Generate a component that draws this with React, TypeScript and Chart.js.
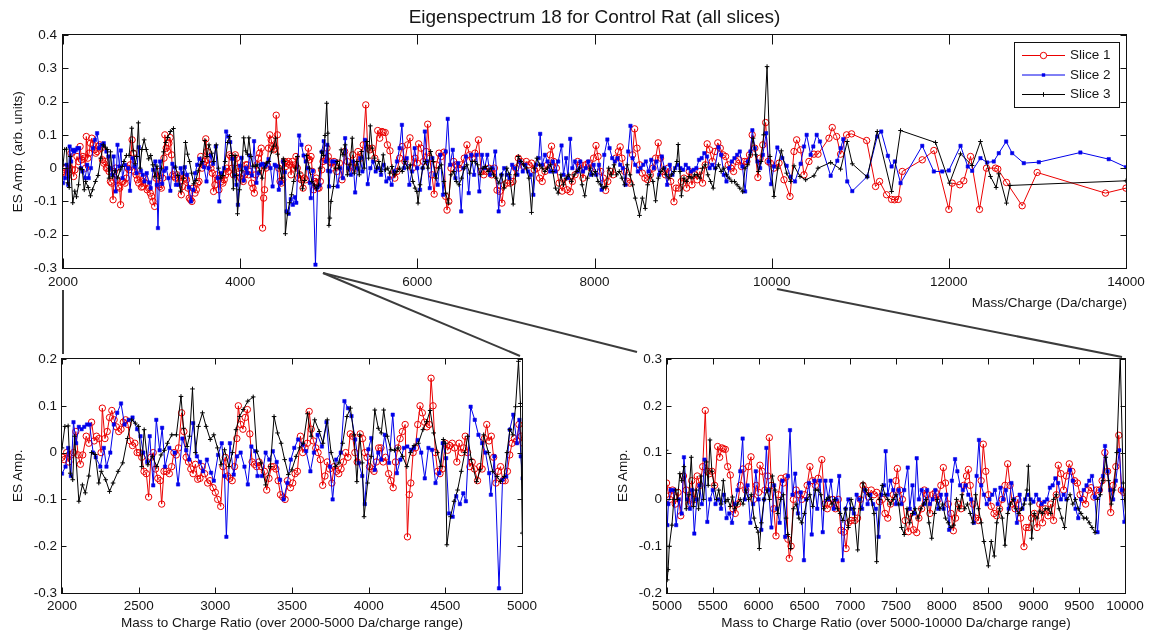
import React, { useEffect, useRef } from "react";
import { Chart, registerables } from "chart.js";

Chart.register(...registerables);

const FONT = "'Liberation Sans', Arial, Helvetica, sans-serif";
const TEXT = "#161616";
const RED = "rgb(235,0,0)";
const BLUE = "rgb(0,0,235)";
const BLACK = "rgb(0,0,0)";

// ---- data: [mass/charge, ES amplitude] ----
const slice1 = [
  [2000,-0.01],[2015,-0.015],[2030,0],[2045,-0.02],[2060,-0.005],[2075,0],[2090,0.045],[2105,-0.005],[2120,-0.025],[2135,-0.005],[2158,0.035],[2175,0.02],[2193,0.065],[2210,0.025],[2225,0.035],[2240,0.03],[2255,0],[2263,0.095],[2280,0.03],[2295,0.045],[2310,0.075],[2325,0.09],[2340,0.07],[2355,0.055],[2370,0.045],[2385,0.05],[2400,0.065],[2415,0.07],[2430,0.06],[2445,0.025],[2460,0.015],[2475,0.02],[2490,0],[2505,0],[2520,-0.01],[2535,-0.04],[2550,-0.045],[2565,-0.095],[2580,-0.01],[2595,0],[2610,-0.035],[2625,-0.055],[2640,-0.06],[2650,-0.11],[2665,-0.04],[2680,-0.04],[2700,-0.045],[2715,-0.03],[2730,0],[2745,-0.005],[2760,0.01],[2780,0.085],[2795,0.045],[2810,-0.01],[2825,-0.02],[2840,-0.035],[2855,-0.045],[2870,-0.025],[2885,-0.057],[2900,-0.055],[2915,-0.03],[2930,-0.045],[2950,-0.065],[2965,-0.06],[2985,-0.075],[3000,-0.085],[3015,-0.1],[3035,-0.115],[3050,-0.03],[3065,-0.01],[3080,-0.05],[3095,-0.055],[3110,-0.06],[3125,-0.03],[3140,0.03],[3150,0.1],[3165,0.06],[3180,0.05],[3195,0.075],[3209,0.092],[3225,0.04],[3240,-0.02],[3255,-0.025],[3270,-0.03],[3285,-0.02],[3300,-0.03],[3320,-0.04],[3335,-0.08],[3350,-0.055],[3365,-0.03],[3380,-0.03],[3395,-0.035],[3410,-0.06],[3425,-0.09],[3440,-0.095],[3455,-0.1],[3470,-0.06],[3490,-0.075],[3505,-0.065],[3520,-0.045],[3535,-0.04],[3555,0.035],[3570,0],[3585,0.01],[3600,0.02],[3612,0.088],[3625,0.05],[3640,0.025],[3655,0.01],[3670,0],[3685,-0.015],[3700,-0.07],[3715,-0.05],[3730,-0.02],[3745,-0.035],[3760,-0.065],[3775,-0.03],[3790,-0.04],[3805,-0.045],[3820,-0.035],[3835,-0.02],[3850,0],[3865,-0.01],[3880,0.04],[3895,0.035],[3910,0],[3925,-0.02],[3945,0.04],[3960,0.03],[3975,0],[3990,-0.01],[4005,-0.03],[4020,-0.035],[4035,-0.04],[4050,-0.02],[4065,0.01],[4080,0.01],[4095,-0.02],[4110,-0.01],[4130,-0.045],[4145,-0.06],[4160,-0.075],[4175,-0.02],[4190,0.01],[4205,0.03],[4220,0.045],[4238,0.06],[4253,-0.18],[4265,-0.09],[4275,-0.065],[4290,0],[4305,0.01],[4320,0.06],[4335,0.1],[4350,0.085],[4365,0.065],[4380,0.055],[4395,0.06],[4407,0.159],[4420,0.1],[4435,0],[4450,-0.04],[4465,-0.045],[4480,-0.035],[4500,0.02],[4515,0.005],[4530,0.015],[4545,0.02],[4560,0.01],[4575,-0.02],[4590,0.02],[4605,0],[4620,0.01],[4630,0.035],[4645,0],[4660,-0.03],[4675,-0.02],[4690,-0.035],[4710,-0.06],[4725,-0.03],[4740,-0.035],[4755,0.03],[4770,0.06],[4785,0.025],[4800,0.035],[4815,-0.01],[4830,-0.065],[4845,-0.04],[4860,-0.03],[4875,-0.06],[4890,-0.06],[4905,-0.04],[4920,-0.005],[4935,0.02],[4950,0.03],[4965,0.025],[4980,0.06],[4995,0.035],
  [5008,0.02],[5030,0],[5060,0.02],[5090,-0.01],[5120,0.015],[5150,-0.035],[5180,0.05],[5210,0.02],[5240,-0.01],[5270,0.04],[5300,0],[5330,0.05],[5360,0.03],[5390,0.07],[5418,0.19],[5440,0.06],[5465,0.055],[5490,0.06],[5520,0.03],[5553,0.113],[5575,0.09],[5600,0.11],[5615,0.108],[5637,0.107],[5662,0.07],[5691,0.052],[5720,-0.02],[5745,-0.03],[5770,-0.01],[5800,0.03],[5830,0.065],[5860,0.02],[5890,0.07],[5917,0.091],[5945,0],[5975,0.03],[6000,0.015],[6015,0.073],[6040,0.06],[6070,0.02],[6100,0.05],[6117,0.132],[6140,0.03],[6165,-0.02],[6190,-0.078],[6215,0.01],[6245,0.045],[6270,0.035],[6300,0.048],[6320,-0.085],[6335,-0.126],[6355,-0.1],[6380,0],[6410,0.02],[6440,0.01],[6470,0],[6500,0.01],[6530,0.03],[6560,0.07],[6590,0.04],[6620,0.03],[6650,0.045],[6690,0.085],[6720,-0.01],[6750,-0.02],[6780,-0.01],[6810,0],[6840,-0.02],[6870,0],[6900,-0.066],[6930,-0.07],[6955,-0.105],[6980,-0.05],[7010,-0.045],[7050,-0.045],[7080,-0.04],[7110,0],[7140,0.03],[7170,0.02],[7200,0.005],[7230,0.02],[7260,0.01],[7290,0.015],[7320,-0.005],[7350,0],[7380,-0.03],[7410,-0.04],[7440,-0.01],[7470,0.01],[7500,0.04],[7515,0.066],[7540,0.02],[7570,0],[7600,-0.045],[7635,-0.069],[7660,-0.03],[7690,-0.065],[7726,-0.071],[7750,-0.04],[7780,-0.02],[7810,0.02],[7840,0.01],[7870,-0.03],[7900,0.01],[7930,0.015],[7960,0],[7990,0.03],[8017,0.068],[8040,0.035],[8070,-0.01],[8100,-0.03],[8126,-0.067],[8150,-0.04],[8180,-0.01],[8210,-0.02],[8240,0.03],[8270,0.05],[8290,0.064],[8310,0.03],[8340,-0.01],[8370,-0.04],[8400,-0.045],[8430,0.04],[8453,0.118],[8480,0.06],[8510,0.01],[8540,-0.015],[8570,-0.03],[8600,-0.035],[8630,-0.02],[8660,0],[8690,0.03],[8719,0.076],[8745,0.03],[8770,-0.01],[8800,-0.02],[8830,0],[8860,-0.04],[8897,-0.101],[8920,-0.06],[8950,-0.06],[8980,-0.04],[9010,-0.03],[9040,-0.06],[9070,-0.01],[9100,-0.05],[9130,-0.02],[9160,-0.035],[9190,-0.01],[9220,-0.045],[9250,0.01],[9272,0.073],[9300,0.055],[9330,0.02],[9360,0.05],[9392,0.076],[9420,0.06],[9450,0.04],[9480,0.035],[9510,0.01],[9540,0],[9570,-0.01],[9600,0.02],[9630,0.025],[9660,0.005],[9690,0.02],[9720,0.02],[9750,0.04],[9780,0.1],[9810,0.06],[9844,-0.028],[9870,0.03],[9900,0.07],[9932,0.137],[9960,0.02],[9985,0.015],
  [10026,0],[10083,0.015],[10139,-0.035],[10207,-0.085],[10252,0.05],[10282,0.085],[10327,0.055],[10365,-0.02],[10421,0.02],[10478,0.042],[10523,0.042],[10647,0.09],[10684,0.122],[10733,0.095],[10778,0.042],[10846,0.1],[10902,0.103],[11072,0.083],[11173,-0.055],[11218,-0.04],[11297,-0.08],[11354,-0.094],[11387,-0.095],[11429,-0.094],[11474,-0.01],[11700,0.025],[11831,0.053],[12000,-0.124],[12038,-0.045],[12124,-0.05],[12169,-0.038],[12245,0.035],[12346,-0.124],[12425,0],[12527,0],[12553,-0.003],[12651,-0.043],[12828,-0.113],[12997,-0.013],[13768,-0.075],[14000,-0.06]
];

const slice2 = [
  [2000,-0.045],[2023,-0.03],[2040,0.01],[2058,-0.05],[2075,0.065],[2092,0.02],[2110,0.055],[2128,0.05],[2145,0.055],[2163,0.06],[2180,0.06],[2203,0],[2220,-0.01],[2250,-0.03],[2273,0.01],[2290,-0.03],[2315,0],[2338,0.06],[2360,0.085],[2385,0.105],[2408,0.06],[2435,0.07],[2460,0.075],[2490,0.05],[2512,0.035],[2530,0],[2555,-0.02],[2572,0.035],[2595,-0.07],[2615,0.07],[2637,0.005],[2653,0.053],[2672,-0.03],[2700,0.01],[2735,0],[2757,-0.068],[2785,0.03],[2810,0.005],[2830,-0.015],[2855,0.063],[2880,-0.008],[2900,-0.02],[2920,-0.04],[2945,-0.015],[2972,-0.043],[2990,-0.06],[3018,-0.005],[3042,0.02],[3060,-0.05],[3072,-0.18],[3095,0.02],[3120,-0.047],[3142,-0.008],[3165,0],[3190,-0.03],[3212,-0.068],[3235,0.013],[3260,0.003],[3275,-0.05],[3305,-0.05],[3328,0],[3352,-0.015],[3375,0.003],[3400,-0.02],[3422,-0.058],[3445,-0.1],[3470,-0.065],[3492,-0.015],[3515,0.01],[3540,0.028],[3570,0.017],[3592,0.003],[3620,-0.04],[3643,0],[3667,0.038],[3695,0.013],[3725,0.065],[3748,-0.03],[3765,-0.1],[3788,-0.015],[3818,0],[3842,0.11],[3865,0.095],[3888,0.078],[3912,0.028],[3935,-0.022],[3958,-0.05],[3975,-0.11],[3998,0.007],[4017,0.031],[4040,-0.037],[4063,0],[4082,-0.015],[4105,0.038],[4133,-0.022],[4157,0.081],[4184,-0.044],[4207,-0.015],[4230,0.01],[4252,0.013],[4277,0.006],[4296,0.01],[4320,0.027],[4343,0],[4366,-0.055],[4390,0.01],[4413,0.006],[4436,-0.065],[4460,-0.044],[4483,0.02],[4505,-0.012],[4524,-0.13],[4548,-0.137],[4571,-0.093],[4595,-0.11],[4617,-0.087],[4634,-0.104],[4665,0.098],[4692,0.07],[4716,0.038],[4740,0.02],[4762,0],[4786,-0.044],[4797,-0.09],[4820,-0.008],[4850,-0.29],[4873,-0.058],[4897,-0.051],[4920,0.049],[4943,0.081],[4967,0.02],[4983,0.07],[4992,-0.008],
  [5004,-0.055],[5015,-0.01],[5040,0.02],[5070,0.02],[5100,-0.055],[5130,0],[5160,-0.03],[5185,0.09],[5220,0],[5250,-0.02],[5275,0.02],[5298,-0.073],[5325,0],[5355,0.03],[5380,-0.01],[5410,0.085],[5440,-0.048],[5470,0],[5500,0.02],[5530,-0.01],[5560,0],[5590,-0.02],[5620,0.01],[5650,-0.04],[5680,-0.03],[5710,-0.05],[5740,-0.01],[5770,0.02],[5800,0.06],[5826,0.13],[5850,0],[5880,0.03],[5910,-0.05],[5940,-0.01],[5970,0.06],[6000,0],[6030,-0.065],[6060,0],[6085,0.11],[6110,0.02],[6140,-0.06],[6170,0.03],[6200,-0.02],[6230,-0.05],[6260,0.04],[6290,-0.08],[6320,0.05],[6343,0.148],[6370,0.01],[6400,0.055],[6430,-0.03],[6460,0.015],[6495,-0.13],[6520,0],[6550,0.035],[6580,-0.075],[6610,0.04],[6640,-0.02],[6670,0.04],[6700,-0.07],[6730,0.04],[6760,0],[6790,0.04],[6820,-0.02],[6850,0],[6880,0.05],[6918,-0.13],[6950,-0.02],[6980,0],[7010,-0.02],[7040,-0.03],[7070,0.01],[7100,0],[7130,-0.02],[7160,0.02],[7190,-0.01],[7220,0.01],[7250,-0.01],[7280,-0.02],[7310,-0.08],[7340,0.01],[7370,0.03],[7387,0.103],[7410,0.01],[7440,0.04],[7470,0.02],[7500,-0.01],[7530,0.02],[7560,-0.01],[7590,0.02],[7628,0.068],[7650,-0.02],[7680,0.03],[7700,-0.03],[7726,0.088],[7750,0],[7780,0.02],[7810,-0.01],[7840,0.02],[7870,-0.01],[7900,0],[7930,0.02],[7960,-0.02],[7990,0.01],[8020,-0.02],[8050,0.01],[8080,-0.065],[8110,0.04],[8145,0.086],[8170,0.06],[8200,0.03],[8230,0.02],[8260,0.03],[8290,0.01],[8320,0],[8350,-0.05],[8380,0.05],[8406,0.127],[8430,0.03],[8460,0.01],[8490,-0.01],[8520,0],[8550,0.01],[8580,0.02],[8610,-0.01],[8640,0.025],[8670,0],[8700,0.02],[8730,-0.02],[8760,0.035],[8790,0],[8820,-0.05],[8850,0.01],[8880,-0.02],[8910,0],[8940,0.01],[8970,0],[9000,-0.005],[9030,0.01],[9060,0],[9090,-0.01],[9120,-0.005],[9150,0],[9180,0.025],[9210,0.03],[9240,0.045],[9270,0.035],[9300,0],[9330,0.01],[9360,0],[9400,0.063],[9430,0.04],[9460,-0.02],[9490,-0.04],[9520,0],[9550,0.02],[9580,0.03],[9610,0.04],[9640,0.05],[9670,0.005],[9700,-0.07],[9730,0.02],[9760,0.05],[9782,0.114],[9810,0.06],[9840,0.02],[9870,0],[9900,0.04],[9938,0.105],[9965,0.02],[9993,-0.048],
  [10026,0.005],[10064,0.062],[10120,0.03],[10169,0.007],[10214,-0.026],[10263,-0.04],[10327,0.013],[10365,0.065],[10395,0.1],[10440,0.04],[10470,0.065],[10508,0.1],[10545,0.08],[10666,-0.023],[10741,0.022],[10778,0.06],[10808,0.087],[10853,-0.04],[10910,-0.069],[11079,-0.025],[11192,0.095],[11237,0.11],[11312,0.037],[11354,0.005],[11391,0.02],[11455,-0.045],[11700,0.067],[11831,-0.01],[11925,-0.01],[12000,-0.007],[12132,0.067],[12214,0.005],[12263,-0.008],[12357,0.03],[12432,0.017],[12507,0.02],[12564,0.045],[12647,0.08],[12715,0.045],[12846,0.015],[13016,0.018],[13485,0.047],[13805,0.027],[14000,0.003]
];

const slice3 = [
  [2000,0.01],[2019,0.056],[2040,0.057],[2054,-0.044],[2070,-0.058],[2082,0.035],[2110,-0.104],[2133,-0.069],[2152,-0.086],[2175,-0.05],[2193,0],[2217,-0.004],[2240,-0.065],[2256,-0.04],[2285,-0.058],[2310,-0.083],[2333,-0.065],[2366,-0.04],[2396,-0.022],[2427,0.03],[2455,0.07],[2478,0.063],[2500,0.056],[2520,-0.03],[2536,0.049],[2560,-0.026],[2590,-0.008],[2618,-0.03],[2646,-0.005],[2668,0.005],[2688,0.02],[2716,0.038],[2746,0.038],[2776,0.12],[2793,0.052],[2816,0.013],[2832,0.035],[2851,0.136],[2870,0],[2890,0.056],[2916,0.085],[2940,0.056],[2967,0.028],[2990,0.038],[3014,0.01],[3037,-0.026],[3060,0.006],[3089,-0.03],[3112,0],[3135,0.049],[3158,0.077],[3182,0.092],[3212,0.11],[3247,0.119],[3270,0.003],[3298,-0.022],[3328,-0.069],[3359,-0.03],[3383,0.077],[3406,0.042],[3429,0.02],[3452,-0.015],[3476,-0.047],[3499,-0.037],[3527,-0.008],[3550,0.01],[3573,0.02],[3601,0.083],[3625,0.035],[3648,0.07],[3678,0.045],[3702,0.02],[3730,0.07],[3755,0],[3783,-0.03],[3806,-0.022],[3830,0.02],[3858,0.077],[3881,0.095],[3904,0.038],[3923,-0.062],[3942,0.038],[3958,-0.022],[3970,-0.137],[3993,-0.065],[4017,-0.008],[4040,0.091],[4063,0.052],[4082,0.042],[4098,0.091],[4121,0.035],[4145,0.006],[4168,0.005],[4191,0.01],[4221,-0.008],[4249,-0.03],[4273,0],[4296,0.015],[4324,0.02],[4354,0.049],[4378,0.066],[4401,0.09],[4424,0.042],[4448,0],[4471,-0.03],[4487,0.028],[4500,0.02],[4510,-0.197],[4534,-0.137],[4557,-0.104],[4580,-0.08],[4604,-0.04],[4627,0],[4646,0.035],[4669,-0.015],[4704,-0.062],[4727,-0.037],[4750,0.038],[4781,0],[4809,-0.04],[4837,-0.051],[4860,-0.062],[4884,-0.051],[4902,0],[4921,0.049],[4940,0.038],[4958,0.098],[4977,0.195],[4990,0.105],
  [5002,-0.172],[5012,-0.15],[5025,-0.1],[5054,-0.055],[5075,0],[5095,0.02],[5115,0],[5140,0.055],[5160,0.04],[5185,0.07],[5210,-0.02],[5240,0.01],[5265,0.09],[5290,-0.015],[5320,0.02],[5345,-0.02],[5370,0.05],[5400,0],[5430,0.08],[5450,0.03],[5469,0.127],[5490,0.06],[5515,0.03],[5540,0],[5565,0.02],[5590,-0.01],[5615,0.04],[5640,-0.005],[5665,0],[5690,-0.015],[5715,0.005],[5740,-0.02],[5770,-0.01],[5800,0],[5830,-0.01],[5860,0.02],[5890,0],[5920,0.01],[5950,-0.04],[5975,-0.06],[5995,-0.07],[6008,-0.105],[6030,-0.05],[6060,0],[6090,0.02],[6120,0],[6150,0.05],[6180,0.02],[6210,-0.03],[6240,0],[6270,0.01],[6300,-0.04],[6320,-0.075],[6350,-0.105],[6380,-0.02],[6410,-0.01],[6440,-0.04],[6470,-0.05],[6500,-0.03],[6530,0],[6560,0.01],[6590,-0.015],[6620,0.02],[6650,0.02],[6680,0.01],[6710,-0.02],[6740,0],[6770,0.005],[6800,-0.01],[6830,0],[6860,-0.02],[6890,-0.03],[6920,-0.045],[6950,-0.02],[6980,-0.06],[7010,0],[7040,-0.02],[7082,-0.108],[7110,-0.02],[7140,0.035],[7170,0.02],[7200,0.01],[7230,0],[7260,-0.03],[7289,-0.133],[7320,0],[7350,0.03],[7380,0.01],[7410,0],[7440,-0.01],[7470,0],[7500,0.01],[7530,-0.01],[7560,-0.06],[7590,-0.075],[7620,-0.02],[7650,-0.05],[7680,-0.03],[7710,-0.02],[7740,-0.04],[7770,-0.02],[7800,-0.01],[7830,0],[7860,-0.05],[7890,-0.083],[7920,-0.03],[7950,0],[7980,-0.02],[8010,-0.01],[8040,-0.04],[8070,-0.05],[8100,-0.06],[8130,-0.055],[8160,0],[8190,-0.02],[8220,0.01],[8250,-0.02],[8280,-0.01],[8310,-0.03],[8340,-0.05],[8370,0.01],[8400,-0.02],[8430,-0.05],[8460,-0.09],[8508,-0.142],[8540,-0.09],[8573,-0.121],[8600,-0.05],[8630,-0.02],[8660,-0.04],[8690,-0.098],[8720,-0.03],[8750,-0.01],[8780,0],[8810,-0.02],[8840,-0.03],[8870,-0.02],[8900,-0.01],[8930,0.02],[8945,0.071],[8965,-0.01],[8981,-0.083],[9010,-0.03],[9040,-0.04],[9070,-0.025],[9100,-0.03],[9130,-0.02],[9160,-0.02],[9190,-0.03],[9220,0],[9250,0.01],[9280,-0.02],[9310,-0.04],[9340,-0.06],[9370,0],[9400,0.01],[9430,-0.01],[9460,0],[9490,-0.02],[9520,-0.03],[9550,-0.04],[9580,-0.04],[9610,-0.05],[9640,-0.06],[9673,-0.071],[9700,0],[9730,0.01],[9760,0.04],[9790,0.09],[9820,0.04],[9850,-0.01],[9880,0.02],[9910,0.1],[9948,0.305],[9981,0.035],
  [10026,-0.085],[10070,0],[10109,0.052],[10169,-0.015],[10214,-0.04],[10252,0.007],[10320,-0.025],[10384,-0.035],[10478,-0.023],[10523,0],[10666,0.017],[10778,-0.003],[10853,0.08],[10910,0.013],[11079,-0.027],[11192,0.11],[11354,-0.07],[11455,0.113],[11850,0.077],[12008,-0.045],[12132,0.043],[12263,0.008],[12357,0.08],[12470,-0.025],[12534,-0.058],[12564,-0.017],[12651,-0.105],[12691,-0.052],[14000,-0.038]
];

const seriesNames = ["Slice 1", "Slice 2", "Slice 3"];

// ---- tick values ----
const topXTicks = [2000, 4000, 6000, 8000, 10000, 12000, 14000];
const topYTicks = [-0.3, -0.2, -0.1, 0, 0.1, 0.2, 0.3, 0.4];
const leftXTicks = [2000, 2500, 3000, 3500, 4000, 4500, 5000];
const leftYTicks = [-0.3, -0.2, -0.1, 0, 0.1, 0.2];
const rightXTicks = [5000, 5500, 6000, 6500, 7000, 7500, 8000, 8500, 9000, 9500, 10000];
const rightYTicks = [-0.2, -0.1, 0, 0.1, 0.2, 0.3];

const fmtY = (v: number) => {
  const r = Math.round(v * 10) / 10;
  return Object.is(r, -0) ? "0" : String(r);
};

function makeDatasets(clip: any) {
  const toPts = (arr: number[][]) => arr.map(([x, y]) => ({ x, y }));
  return [
    {
      label: seriesNames[0],
      data: toPts(slice1),
      borderColor: RED,
      backgroundColor: RED,
      borderWidth: 1,
      pointStyle: "circle",
      pointRadius: 3.2,
      pointBorderColor: RED,
      pointBackgroundColor: "rgba(0,0,0,0)",
      pointBorderWidth: 1,
      tension: 0,
      order: 3,
      clip,
    },
    {
      label: seriesNames[1],
      data: toPts(slice2),
      borderColor: BLUE,
      backgroundColor: BLUE,
      borderWidth: 1,
      pointStyle: "rect",
      pointRadius: 2.4,
      pointBorderColor: BLUE,
      pointBackgroundColor: BLUE,
      pointBorderWidth: 0.5,
      tension: 0,
      order: 2,
      clip,
    },
    {
      label: seriesNames[2],
      data: toPts(slice3),
      borderColor: BLACK,
      backgroundColor: BLACK,
      borderWidth: 1,
      pointStyle: "cross",
      pointRadius: 2.3,
      pointBorderColor: BLACK,
      pointBorderWidth: 1,
      tension: 0,
      order: 1,
      clip,
    },
  ];
}

function framePlugin(xLen: number, yLen: number) {
  return {
    id: "matlabFrame",
    afterDatasetsDraw(chart: any) {
      const { ctx, chartArea: a } = chart;
      const xs = chart.scales.x;
      const ys = chart.scales.y;
      const L = Math.round(a.left) - 0.5;
      const R = Math.round(a.right) + 0.5;
      const T = Math.round(a.top) - 0.5;
      const B = Math.round(a.bottom) + 0.5;
      ctx.save();
      ctx.strokeStyle = "#111";
      ctx.lineWidth = 1;
      ctx.beginPath();
      xs.ticks.forEach((t: any) => {
        const px = Math.round(xs.getPixelForValue(t.value)) + 0.5;
        ctx.moveTo(px, B);
        ctx.lineTo(px, B - xLen);
        ctx.moveTo(px, T);
        ctx.lineTo(px, T + xLen);
      });
      ys.ticks.forEach((t: any) => {
        const py = Math.round(ys.getPixelForValue(t.value)) + 0.5;
        ctx.moveTo(L, py);
        ctx.lineTo(L + yLen, py);
        ctx.moveTo(R, py);
        ctx.lineTo(R - yLen, py);
      });
      ctx.stroke();
      ctx.strokeRect(L, T, R - L, B - T);
      ctx.restore();
    },
  };
}

const legendPlugin = {
  id: "matlabLegend",
  afterDraw(chart: any) {
    const ctx = chart.ctx;
    const bx = 1014.5, by = 42.5, bw = 105, bh = 65;
    ctx.save();
    ctx.fillStyle = "#fff";
    ctx.fillRect(bx, by, bw, bh);
    ctx.strokeStyle = "#111";
    ctx.lineWidth = 1;
    ctx.strokeRect(bx, by, bw, bh);
    chart.data.datasets.forEach((ds: any, i: number) => {
      const y = 55.5 + i * 19.5;
      const x0 = 1022, x1 = 1065, xm = 1043.5;
      ctx.strokeStyle = ds.borderColor;
      ctx.lineWidth = 1;
      ctx.beginPath();
      ctx.moveTo(x0, y);
      ctx.lineTo(x1, y);
      ctx.stroke();
      if (ds.pointStyle === "circle") {
        ctx.beginPath();
        ctx.arc(xm, y, ds.pointRadius, 0, Math.PI * 2);
        ctx.fillStyle = "#fff";
        ctx.fill();
        ctx.stroke();
      } else if (ds.pointStyle === "rect") {
        const s = ds.pointRadius / Math.SQRT2;
        ctx.fillStyle = ds.pointBackgroundColor;
        ctx.fillRect(xm - s, y - s, 2 * s, 2 * s);
      } else {
        const r = ds.pointRadius;
        ctx.beginPath();
        ctx.moveTo(xm - r, y);
        ctx.lineTo(xm + r, y);
        ctx.moveTo(xm, y - r);
        ctx.lineTo(xm, y + r);
        ctx.stroke();
      }
      ctx.fillStyle = TEXT;
      ctx.font = `13.5px ${FONT}`;
      ctx.textBaseline = "middle";
      ctx.textAlign = "left";
      ctx.fillText(ds.label, 1070, y);
    });
    ctx.restore();
  },
};

type PanelProps = {
  left: number;
  top: number;
  width: number;
  height: number;
  padTop: number;
  padRight: number;
  yAxisW: number;
  xAxisH: number;
  xMin: number;
  xMax: number;
  yMin: number;
  yMax: number;
  xTicks: number[];
  yTicks: number[];
  xTickLen: number;
  yTickLen: number;
  yPad: number;
  xPad: number;
  clip: any;
  legend?: boolean;
};

function Panel(p: PanelProps) {
  const ref = useRef<HTMLCanvasElement | null>(null);
  useEffect(() => {
    if (!ref.current) return;
    const tickFont = { family: FONT, size: 13.5 };
    const plugins: any[] = [framePlugin(p.xTickLen, p.yTickLen)];
    if (p.legend) plugins.push(legendPlugin);
    const chart = new Chart(ref.current, {
      type: "line",
      data: { datasets: makeDatasets(p.clip) as any },
      options: {
        animation: false,
        responsive: false,
        maintainAspectRatio: false,
        devicePixelRatio: 1,
        events: [],
        layout: { padding: { top: p.padTop, right: p.padRight, left: 0, bottom: 0 } },
        plugins: {
          legend: { display: false },
          tooltip: { enabled: false },
          title: { display: false },
        },
        scales: {
          x: {
            type: "linear",
            min: p.xMin,
            max: p.xMax,
            grid: { display: false, drawTicks: false },
            border: { display: false },
            afterBuildTicks: (s: any) => {
              s.ticks = p.xTicks.map((v) => ({ value: v }));
            },
            afterFit: (s: any) => {
              s.height = p.xAxisH;
            },
            ticks: {
              padding: p.xPad,
              autoSkip: false,
              maxRotation: 0,
              minRotation: 0,
              color: TEXT,
              font: tickFont,
              callback: (v: any) => String(v),
            },
          },
          y: {
            type: "linear",
            min: p.yMin,
            max: p.yMax,
            grid: { display: false, drawTicks: false },
            border: { display: false },
            afterBuildTicks: (s: any) => {
              s.ticks = p.yTicks.map((v) => ({ value: v }));
            },
            afterFit: (s: any) => {
              s.width = p.yAxisW;
            },
            ticks: {
              padding: p.yPad,
              autoSkip: false,
              color: TEXT,
              font: tickFont,
              callback: (v: any) => fmtY(Number(v)),
            },
          },
        },
      } as any,
      plugins,
    });
    return () => chart.destroy();
  }, []);
  return (
    <canvas
      ref={ref}
      width={p.width}
      height={p.height}
      style={{ position: "absolute", left: p.left, top: p.top, width: p.width, height: p.height }}
    />
  );
}

const textBase: React.CSSProperties = {
  position: "absolute",
  fontFamily: FONT,
  color: TEXT,
  whiteSpace: "nowrap",
};

function HLabel({ cx, cy, size, text, align }: { cx: number; cy: number; size: number; text: string; align?: "center" | "right" }) {
  const w = 700;
  const style: React.CSSProperties = {
    ...textBase,
    fontSize: size,
    lineHeight: `${size}px`,
    height: size,
    top: cy - size * 0.49,
    width: w,
    textAlign: align === "right" ? "right" : "center",
    left: align === "right" ? cx - w : cx - w / 2,
  };
  return <div style={style}>{text}</div>;
}

function VLabel({ cx, cy, size, text }: { cx: number; cy: number; size: number; text: string }) {
  const w = 300;
  const style: React.CSSProperties = {
    ...textBase,
    fontSize: size,
    lineHeight: `${size}px`,
    height: size,
    width: w,
    textAlign: "center",
    left: cx - w / 2,
    top: cy - size / 2,
    transform: "rotate(-90deg)",
    transformOrigin: "50% 50%",
  };
  return <div style={style}>{text}</div>;
}

export default function App() {
  return (
    <div
      style={{
        position: "absolute",
        left: 0,
        top: 0,
        width: 1153,
        height: 636,
        background: "#fff",
        overflow: "hidden",
      }}
    >
      <Panel
        left={0}
        top={0}
        width={1153}
        height={300}
        padTop={35}
        padRight={27}
        yAxisW={63}
        xAxisH={32}
        xMin={2000}
        xMax={14000}
        yMin={-0.3}
        yMax={0.4}
        xTicks={topXTicks}
        yTicks={topYTicks}
        xTickLen={10}
        yTickLen={6}
        yPad={6}
        xPad={6}
        clip={undefined}
        legend
      />
      <Panel
        left={0}
        top={330}
        width={560}
        height={290}
        padTop={29}
        padRight={38}
        yAxisW={62}
        xAxisH={27}
        xMin={2000}
        xMax={5000}
        yMin={-0.3}
        yMax={0.2}
        xTicks={leftXTicks}
        yTicks={leftYTicks}
        xTickLen={6}
        yTickLen={5}
        yPad={5}
        xPad={5.5}
        clip={0}
      />
      <Panel
        left={590}
        top={330}
        width={563}
        height={290}
        padTop={29}
        padRight={28}
        yAxisW={77}
        xAxisH={27}
        xMin={5000}
        xMax={10000}
        yMin={-0.2}
        yMax={0.3}
        xTicks={rightXTicks}
        yTicks={rightYTicks}
        xTickLen={6}
        yTickLen={5}
        yPad={5}
        xPad={5.5}
        clip={0}
      />
      <svg
        width={1153}
        height={636}
        style={{ position: "absolute", left: 0, top: 0, pointerEvents: "none" }}
      >
        <g stroke="#3c3c3c" strokeWidth={2} fill="none">
          <line x1={63} y1={290} x2={63} y2={354} />
          <line x1={323} y1={273} x2={520} y2={356} />
          <line x1={323} y1={273} x2={637} y2={352} />
          <line x1={777} y1={289} x2={1122} y2={357} />
        </g>
      </svg>
      <HLabel cx={594.5} cy={16} size={19} text="Eigenspectrum 18 for Control Rat (all slices)" />
      <VLabel cx={17.5} cy={152} size={13.5} text="ES Amp. (arb. units)" />
      <HLabel cx={1127} cy={303} size={13.5} text="Mass/Charge (Da/charge)" align="right" />
      <VLabel cx={18} cy={476} size={13.5} text="ES Amp." />
      <HLabel cx={292} cy={623} size={13.5} text="Mass to Charge Ratio (over 2000-5000 Da/charge range)" />
      <VLabel cx={623} cy={476} size={13.5} text="ES Amp." />
      <HLabel cx={896} cy={623} size={13.5} text="Mass to Charge Ratio (over 5000-10000 Da/charge range)" />
    </div>
  );
}
